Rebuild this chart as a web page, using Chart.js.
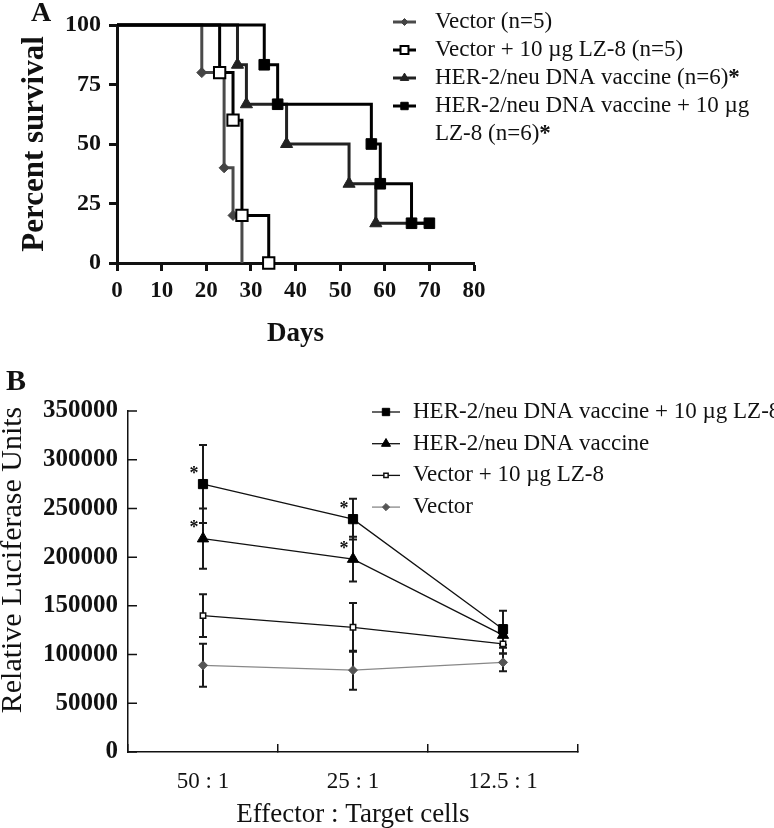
<!DOCTYPE html>
<html>
<head>
<meta charset="utf-8">
<script src="https://cdn.jsdelivr.net/npm/chart.js@4.4.1/dist/chart.umd.min.js"></script>
<style>
  body { margin: 0; background: #fff; width: 774px; height: 828px; overflow: hidden; position: relative; }
  canvas { position: absolute; left: 0; }
  #survival { top: 0; }
  #luciferase { top: 350px; }
</style>
</head>
<body>
<canvas id="survival" width="774" height="350"></canvas>
<canvas id="luciferase" width="774" height="478"></canvas>
<script>
// ---- panel A: survival (days, percent) ----
const vectorDays = [0, 19, 24, 26, 28];
const vectorSurvival = [100, 80, 40, 20, 0];
const vectorLzDays = [0, 23, 26, 28, 34];
const vectorLzSurvival = [100, 80, 60, 20, 0];
const herDays = [0, 27, 29, 38, 52, 58, 70];
const herSurvival = [100, 83.3, 66.7, 50, 33.3, 16.7, 16.7];
const herLzDays = [0, 33, 36, 57, 59, 66, 70];
const herLzSurvival = [100, 83.3, 66.7, 50, 33.3, 16.7, 16.7];
const survivalLabels = [
    'Vector (n=5)',
    'Vector + 10 µg LZ-8 (n=5)',
    'HER-2/neu DNA vaccine (n=6)*',
    'HER-2/neu DNA vaccine + 10 µg\nLZ-8 (n=6)*'
];

// ---- panel B: luciferase units per effector:target ratio ----
const ratios = ['50 : 1', '25 : 1', '12.5 : 1'];
const herLzRlu = [275000, 239000, 126000];
const herLzErr = [40000, 21000, 19000];
const herRlu = [219000, 198000, 120000];
const herErr = [31000, 23000, 10000];
const vectorLzRlu = [140000, 128000, 111000];
const vectorLzErr = [22000, 25000, 10000];
const vectorRlu = [89000, 84000, 92000];
const vectorErr = [22000, 20000, 9000];
const herLzStars = [true, true, false];
const herStars = [true, true, false];
const rluLabels = [
    'HER-2/neu DNA vaccine + 10 µg LZ-8',
    'HER-2/neu DNA vaccine',
    'Vector + 10 µg LZ-8',
    'Vector'
];

const FONT = 'Liberation Serif';
const INK = '#111';
const INNER_TICK = 9;

function xy(xs, ys) {
    return xs.map((x, i) => ({ x: x, y: ys[i] }));
}

function radii(n, r, hidden) {
    var out = [];
    for (var i = 0; i < n; i++) {
        out.push(hidden.indexOf(i) >= 0 ? 0 : r);
    }
    return out;
}

function marker(ctx, style, r, bw, x, y) {
    if (Chart.helpers && Chart.helpers.drawPoint) {
        Chart.helpers.drawPoint(ctx, { pointStyle: style, radius: r, borderWidth: bw, rotation: 0 }, x, y);
        return;
    }
    ctx.beginPath();
    ctx.arc(x, y, r, 0, Math.PI * 2);
    ctx.fill();
    if (bw > 0) ctx.stroke();
}

const sideLegend = {
    id: 'sideLegend',
    afterDraw(chart, args, opts) {
        const ctx = chart.ctx;
        ctx.save();
        chart.data.datasets.forEach((ds, i) => {
            var y = opts.top + i * opts.gap;
            ctx.strokeStyle = ds.borderColor;
            ctx.lineWidth = ds.borderWidth;
            ctx.beginPath();
            ctx.moveTo(opts.lineX0, y);
            ctx.lineTo(opts.lineX1, y);
            ctx.stroke();
            var r = Array.isArray(ds.pointRadius) ? Math.max.apply(null, ds.pointRadius) : ds.pointRadius;
            ctx.fillStyle = ds.pointBackgroundColor;
            ctx.strokeStyle = ds.pointBorderColor;
            ctx.lineWidth = ds.pointBorderWidth;
            marker(ctx, ds.pointStyle, r * opts.markerScale, ds.pointBorderWidth, (opts.lineX0 + opts.lineX1) / 2, y);

            ctx.fillStyle = INK;
            ctx.textAlign = 'left';
            ctx.textBaseline = 'middle';
            ds.label.split('\n').forEach((line, k) => {
                var ly = y + k * opts.gap;
                var star = line.endsWith('*');
                var txt = star ? line.slice(0, -1) : line;
                ctx.font = opts.size + 'px "' + FONT + '"';
                ctx.fillText(txt, opts.textX, ly);
                if (star) {
                    var w = ctx.measureText(txt).width;
                    ctx.font = 'bold ' + opts.size + 'px "' + FONT + '"';
                    ctx.fillText('*', opts.textX + w, ly);
                }
            });
        });
        ctx.restore();
    }
};

const panelText = {
    id: 'panelText',
    afterDraw(chart, args, opts) {
        const ctx = chart.ctx;
        (opts.items || []).forEach(it => {
            ctx.save();
            ctx.translate(it.x, it.y);
            if (it.rotate) ctx.rotate(it.rotate);
            ctx.font = it.font;
            ctx.fillStyle = INK;
            ctx.textAlign = 'center';
            ctx.textBaseline = 'middle';
            ctx.fillText(it.text, 0, 0);
            ctx.restore();
        });
    }
};

// short tick marks pointing into the plot from the y axis
const innerTicks = {
    id: 'innerTicks',
    afterDraw(chart) {
        const ctx = chart.ctx;
        const s = chart.scales.y;
        const x0 = chart.chartArea.left;
        ctx.save();
        ctx.strokeStyle = INK;
        ctx.lineWidth = 1.5;
        ctx.beginPath();
        s.ticks.forEach(t => {
            var py = s.getPixelForValue(t.value);
            ctx.moveTo(x0, py);
            ctx.lineTo(x0 + INNER_TICK, py);
        });
        ctx.stroke();
        ctx.restore();
    }
};

const errorBars = {
    id: 'errorBars',
    beforeDatasetsDraw(chart) {
        const ctx = chart.ctx;
        const yScale = chart.scales.y;
        chart.data.datasets.forEach((ds, i) => {
            if (!ds.errors) return;
            const meta = chart.getDatasetMeta(i);
            ctx.save();
            ctx.strokeStyle = '#1a1a1a';
            ctx.lineWidth = 2;
            meta.data.forEach((pt, j) => {
                var v = ds.data[j], e = ds.errors[j];
                var top = yScale.getPixelForValue(v + e);
                var bot = yScale.getPixelForValue(v - e);
                ctx.beginPath();
                ctx.moveTo(pt.x, top); ctx.lineTo(pt.x, bot);
                ctx.moveTo(pt.x - 4, top); ctx.lineTo(pt.x + 4, top);
                ctx.moveTo(pt.x - 4, bot); ctx.lineTo(pt.x + 4, bot);
                ctx.stroke();
            });
            ctx.restore();
        });
    },
    afterDatasetsDraw(chart) {
        const ctx = chart.ctx;
        chart.data.datasets.forEach((ds, i) => {
            if (!ds.stars) return;
            const meta = chart.getDatasetMeta(i);
            ctx.save();
            ctx.fillStyle = INK;
            ctx.font = 'bold 18px "' + FONT + '"';
            ctx.textAlign = 'center';
            ctx.textBaseline = 'middle';
            meta.data.forEach((pt, j) => {
                if (ds.stars[j]) ctx.fillText('*', pt.x - 9, pt.y - 10);
            });
            ctx.restore();
        });
    }
};

// ---------------- panel A ----------------
new Chart(document.getElementById('survival'), {
    type: 'line',
    data: {
        datasets: [{
            label: survivalLabels[0],
            data: xy(vectorDays, vectorSurvival),
            stepped: 'before',
            borderColor: '#4a4a4a',
            borderWidth: 3,
            pointStyle: 'rectRot',
            pointRadius: radii(vectorDays.length, 5, [0, 4]),
            pointBackgroundColor: '#444',
            pointBorderColor: '#444',
            pointBorderWidth: 1,
            clip: false,
            order: 4
        }, {
            label: survivalLabels[1],
            data: xy(vectorLzDays, vectorLzSurvival),
            stepped: 'before',
            borderColor: '#000',
            borderWidth: 3,
            pointStyle: 'rect',
            pointRadius: radii(vectorLzDays.length, 8, [0]),
            pointBackgroundColor: '#fff',
            pointBorderColor: '#000',
            pointBorderWidth: 2,
            clip: false,
            order: 3
        }, {
            label: survivalLabels[2],
            data: xy(herDays, herSurvival),
            stepped: 'before',
            borderColor: '#222',
            borderWidth: 3,
            pointStyle: 'triangle',
            pointRadius: radii(herDays.length, 7, [0, 6]),
            pointBackgroundColor: '#222',
            pointBorderColor: '#222',
            pointBorderWidth: 1,
            clip: false,
            order: 2
        }, {
            label: survivalLabels[3],
            data: xy(herLzDays, herLzSurvival),
            stepped: 'before',
            borderColor: '#000',
            borderWidth: 3,
            pointStyle: 'rect',
            pointRadius: radii(herLzDays.length, 7.5, [0]),
            pointBackgroundColor: '#000',
            pointBorderColor: '#000',
            pointBorderWidth: 1,
            clip: false,
            order: 1
        }]
    },
    options: {
        responsive: false,
        animation: false,
        layout: { padding: { left: 0, top: 25, right: 300, bottom: 0 } },
        plugins: {
            legend: { display: false },
            tooltip: { enabled: false },
            sideLegend: { top: 22, gap: 28, lineX0: 393, lineX1: 416, textX: 435, size: 23, markerScale: 0.7 },
            panelText: { items: [{ text: 'A', x: 41, y: 14, font: 'bold 28px "' + FONT + '"' }] }
        },
        scales: {
            x: {
                type: 'linear',
                min: 0,
                max: 80,
                ticks: { stepSize: 10, color: INK, padding: 6, font: { family: FONT, size: 23, weight: 'bold' } },
                grid: { drawOnChartArea: false, tickLength: 8, tickWidth: 3, color: INK },
                border: { color: INK, width: 3 },
                title: { display: true, text: 'Days', color: INK, padding: { top: 0, bottom: 0 },
                         font: { family: FONT, size: 27, weight: 'bold' } },
                afterFit: s => { s.height = 87; }
            },
            y: {
                min: 0,
                max: 100,
                ticks: { stepSize: 25, color: INK, padding: 8, font: { family: FONT, size: 24, weight: 'bold' } },
                grid: { drawOnChartArea: false, tickLength: 8, tickWidth: 3, color: INK },
                border: { color: INK, width: 3 },
                title: { display: true, text: 'Percent survival', color: INK, padding: { top: 16, bottom: 0 },
                         font: { family: FONT, size: 31, weight: 'bold' } },
                afterFit: s => { s.width = 117; }
            }
        }
    },
    plugins: [sideLegend, panelText]
});

// ---------------- panel B ----------------
new Chart(document.getElementById('luciferase'), {
    type: 'line',
    data: {
        labels: ratios,
        datasets: [{
            label: rluLabels[0],
            data: herLzRlu,
            errors: herLzErr,
            stars: herLzStars,
            borderColor: '#111',
            borderWidth: 1.3,
            pointStyle: 'rect',
            pointRadius: 6.5,
            pointBackgroundColor: '#000',
            pointBorderColor: '#000',
            pointBorderWidth: 1
        }, {
            label: rluLabels[1],
            data: herRlu,
            errors: herErr,
            stars: herStars,
            borderColor: '#111',
            borderWidth: 1.3,
            pointStyle: 'triangle',
            pointRadius: 6.5,
            pointBackgroundColor: '#000',
            pointBorderColor: '#000',
            pointBorderWidth: 1
        }, {
            label: rluLabels[2],
            data: vectorLzRlu,
            errors: vectorLzErr,
            borderColor: '#111',
            borderWidth: 1.3,
            pointStyle: 'rect',
            pointRadius: 3.8,
            pointBackgroundColor: '#fff',
            pointBorderColor: '#111',
            pointBorderWidth: 1.5
        }, {
            label: rluLabels[3],
            data: vectorRlu,
            errors: vectorErr,
            borderColor: '#888',
            borderWidth: 1.3,
            pointStyle: 'rectRot',
            pointRadius: 4.5,
            pointBackgroundColor: '#555',
            pointBorderColor: '#555',
            pointBorderWidth: 1
        }]
    },
    options: {
        responsive: false,
        animation: false,
        layout: { padding: { left: 0, top: 61, right: 196, bottom: 0 } },
        plugins: {
            legend: { display: false },
            tooltip: { enabled: false },
            sideLegend: { top: 62, gap: 31.7, lineX0: 372, lineX1: 400, textX: 413, size: 23, markerScale: 0.8 },
            panelText: { items: [
                { text: 'B', x: 16, y: 32, font: 'bold 30px "' + FONT + '"' },
                { text: 'Relative Luciferase Units', x: 13, y: 210, rotate: -Math.PI / 2, font: '30px "' + FONT + '"' }
            ] }
        },
        scales: {
            x: {
                type: 'category',
                offset: true,
                ticks: { color: INK, padding: 24, font: { family: FONT, size: 23 } },
                grid: { offset: true, drawOnChartArea: false, tickLength: -8, lineWidth: 1.5, color: INK },
                border: { color: INK, width: 1.5 },
                title: { display: true, text: 'Effector : Target cells', color: INK, padding: { top: 0, bottom: 0 },
                         font: { family: FONT, size: 27, lineHeight: 1 } },
                afterFit: s => { s.height = 76; }
            },
            y: {
                min: 0,
                max: 350000,
                ticks: { stepSize: 50000, color: INK, padding: 10, font: { family: FONT, size: 25, weight: 'bold' },
                         callback: v => String(v) },
                grid: { drawOnChartArea: false, drawTicks: false, color: INK },
                border: { color: INK, width: 1.5 },
                afterFit: s => { s.width = 128; }
            }
        }
    },
    plugins: [errorBars, innerTicks, sideLegend, panelText]
});
</script>
</body>
</html>
